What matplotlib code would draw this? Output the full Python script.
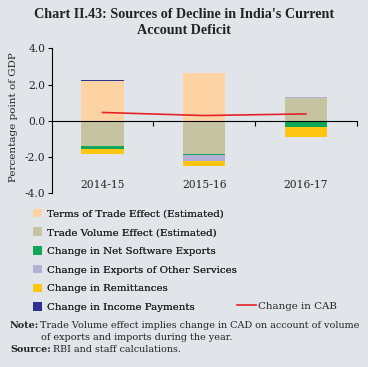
import matplotlib
matplotlib.use("Agg")
import matplotlib.pyplot as plt
import numpy as np

years = ["2014-15", "2015-16", "2016-17"]
terms_of_trade = [2.20, 2.63, 0.0]
trade_volume = [-1.41, -1.81, 1.28]
net_software = [-0.13, -0.05, -0.35]
other_services = [0.0, -0.37, 0.02]
remittances = [-0.29, -0.24, -0.57]
income_payments = [0.04, 0.03, 0.0]
change_cab = [0.46, 0.29, 0.38]

series = [
    ("Terms of Trade Effect (Estimated)", terms_of_trade, "#FDD3A3"),
    ("Trade Volume Effect (Estimated)", trade_volume, "#C6C3A1"),
    ("Change in Net Software Exports", net_software, "#10A657"),
    ("Change in Exports of Other Services", other_services, "#B2AFD6"),
    ("Change in Remittances", remittances, "#FFC513"),
    ("Change in Income Payments", income_payments, "#2E3192"),
]

BG = "#E1E4E8"
TXT = "#222222"
BODY = ["DejaVu Serif"]
plt.rcParams["font.family"] = BODY

fig = plt.figure(figsize=(3.68, 3.67), dpi=100, facecolor=BG)
W, H = 368, 367
ax = fig.add_axes([51.7 / W, 1 - 193.3 / H, 305 / W, 145 / H])
ax.set_facecolor(BG)

x = np.arange(len(years))
pos_bottom = np.zeros(len(years))
neg_bottom = np.zeros(len(years))
handles = []
for label, vals, color in series:
    vals = np.array(vals, dtype=float)
    bottoms = np.where(vals >= 0, pos_bottom, neg_bottom)
    bc = ax.bar(x, vals, width=0.415, bottom=bottoms, color=color, label=label, linewidth=0)
    handles.append(bc)
    pos_bottom += np.where(vals >= 0, vals, 0)
    neg_bottom += np.where(vals < 0, vals, 0)

line, = ax.plot(x, change_cab, color="#E3232A", linewidth=1.2, label="Change in CAB")

ax.set_xlim(-0.5, 2.5)
ax.set_ylim(-4, 4)
ax.set_yticks([-4, -2, 0, 2, 4])
ax.set_yticklabels(["-4.0", "-2.0", "0.0", "2.0", "4.0"], fontsize=7.7, color=TXT)
ax.spines["top"].set_visible(False)
ax.spines["right"].set_visible(False)
ax.spines["bottom"].set_position(("data", 0))
ax.spines["left"].set_linewidth(0.8)
ax.spines["bottom"].set_linewidth(0.8)
ax.tick_params(axis="y", direction="out", length=3, width=0.8, pad=1.5)
ax.set_xticks([0.5, 1.5, 2.5])
ax.set_xticklabels([])
ax.tick_params(axis="x", direction="out", length=3.5, width=0.8)
for xi, yr in zip(x, years):
    ax.text(xi, -3.55, yr, ha="center", va="center", fontsize=7.7, color=TXT)

fig.text(14 / W, 1 - 117 / H, "Percentage point of GDP", rotation=90, ha="center", va="center",
         fontsize=7.5, color=TXT)

TITLE = ["Liberation Serif", "DejaVu Serif"]
fig.text(0.5, 1 - 15 / H, "Chart II.43: Sources of Decline in India's Current", ha="center", va="center",
         fontsize=10.2, fontweight="bold", color=TXT, family=TITLE)
fig.text(0.5, 1 - 31 / H, "Account Deficit", ha="center", va="center",
         fontsize=10.2, fontweight="bold", color=TXT, family=TITLE)

LS = 7.4
leg1 = fig.legend(handles=handles, labels=[s[0] for s in series], loc="upper left",
                  bbox_to_anchor=(33 / W, 1 - 208.5 / H), frameon=False, fontsize=LS,
                  handlelength=0.9, handleheight=0.9, handletextpad=0.42, labelspacing=0.87,
                  borderaxespad=0, borderpad=0)
leg2 = fig.legend(handles=[line], labels=["Change in CAB"], loc="upper left",
                  bbox_to_anchor=(237 / W, 1 - 301.5 / H), frameon=False, fontsize=LS,
                  handlelength=1.85, handletextpad=0.15, borderaxespad=0, borderpad=0)
for lg in (leg1, leg2):
    for t in lg.get_texts():
        t.set_color(TXT)
fig.add_artist(leg1)

NS = 6.9
fig.text(10 / W, 1 - 325 / H, "Note:", fontweight="bold", fontsize=NS, va="center", color=TXT)
fig.text(40 / W, 1 - 325 / H, "Trade Volume effect implies change in CAD on account of volume",
         fontsize=NS, va="center", color=TXT)
fig.text(41 / W, 1 - 338 / H, "of exports and imports during the year.", fontsize=NS, va="center", color=TXT)
fig.text(10 / W, 1 - 350 / H, "Source:", fontweight="bold", fontsize=NS, va="center", color=TXT)
fig.text(53 / W, 1 - 350 / H, "RBI and staff calculations.", fontsize=NS, va="center", color=TXT)

fig.savefig("out.png", dpi=100, facecolor=BG)
